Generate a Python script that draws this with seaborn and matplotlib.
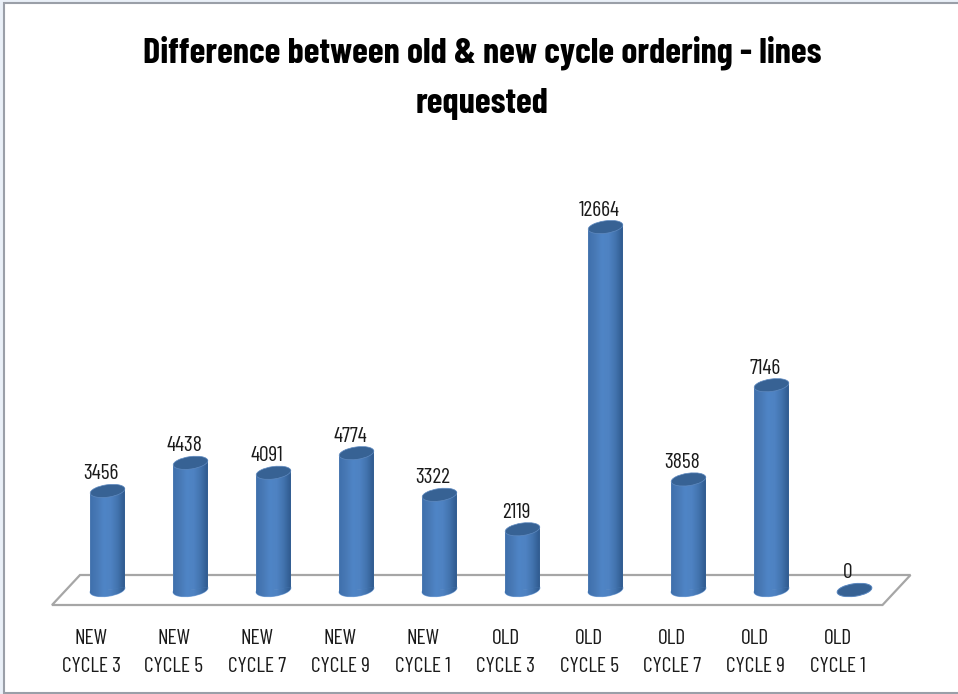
import numpy as np
import pandas as pd
import matplotlib
matplotlib.use('Agg')
import matplotlib.pyplot as plt
import matplotlib.patches as patches
from matplotlib.colors import LinearSegmentedColormap
from matplotlib.path import Path
from matplotlib.transforms import Affine2D, ScaledTranslation
import seaborn as sns

groups = ['NEW', 'NEW', 'NEW', 'NEW', 'NEW', 'OLD', 'OLD', 'OLD', 'OLD', 'OLD']
cycles = ['CYCLE 3', 'CYCLE 5', 'CYCLE 7', 'CYCLE 9', 'CYCLE 1',
          'CYCLE 3', 'CYCLE 5', 'CYCLE 7', 'CYCLE 9', 'CYCLE 1']
lines_requested = [3456, 4438, 4091, 4774, 3322, 2119, 12664, 3858, 7146, 0]

W, H = 958, 694
df = pd.DataFrame({'label': [g + '\n' + c for g, c in zip(groups, cycles)],
                   'lines': lines_requested})

sns.set_style('white')
plt.rcParams['font.family'] = ['Barlow Condensed', 'Archivo Narrow', 'Lato', 'DejaVu Sans']

fig = plt.figure(figsize=(W / 100, H / 100), dpi=100, facecolor='#eaf0f8')
# image pixels (y down) -> display
px = Affine2D().scale(1, -1).translate(0, H)

fig.patches.append(patches.Rectangle((3.5, 2.5), W, 690, transform=px, facecolor='white',
                                     edgecolor='#9a9fa8', linewidth=1.5, zorder=-1))

ax = fig.add_axes([66 / W, 1 - 590 / H, 830 / W, 400 / H])
ax.patch.set_alpha(0)
sns.barplot(data=df, x='label', y='lines', color='#4f81bd', width=0.42, saturation=1, ax=ax)
ylim = (0, 13957)
xlim = (-0.5, 9.5)
ax.set_xlim(xlim)
ax.set_ylim(ylim)
sns.despine(ax=ax, left=True, bottom=True)
ax.set_ylabel('')
ax.set_xlabel('')
ax.set_yticks([])

# the floor of the 3d chart
floor = patches.Polygon([(52, 605), (80, 575), (910.5, 575), (882.5, 605)], closed=True,
                        transform=px, facecolor='white', edgecolor='#a6a6a6',
                        linewidth=1.6, clip_on=False, zorder=0.5)
ax.add_patch(floor)

cyl = LinearSegmentedColormap.from_list('cyl', ['#3f70ac', '#4879b6', '#4f85c6', '#4e82c2',
                                                '#4273ae', '#2f5a8e'])
shade = np.linspace(0, 1, 64).reshape(1, -1)
tilt = 3
ry = 6.2

bars = list(ax.patches)[:len(lines_requested)]
for bar, value in zip(bars, lines_requested):
    x0, x1 = bar.get_x(), bar.get_x() + bar.get_width()
    (lx, base), (rx, top) = ax.transData.transform([(x0, 0), (x1, value)])
    base, top = H - base, H - top
    xc = (lx + rx) / 2
    w = rx - lx
    ang = -8

    bottom = patches.Ellipse((xc, base), w, ry * 2, angle=ang, transform=px,
                             facecolor='#4f81bd', edgecolor='#7fa8dc', linewidth=0.8,
                             clip_on=False, zorder=2)
    ax.add_patch(bottom)
    if value > 0:
        im = ax.imshow(shade, cmap=cyl, aspect='auto', zorder=2.1,
                       extent=(x0, x1, -500, value + 500), interpolation='bilinear')
        im.set_clip_box(fig.bbox)
        im.set_clip_path(bottom)
        body = Path([(lx, top + tilt), (rx, top - tilt), (rx, base - tilt), (lx, base + tilt),
                     (lx, top + tilt)])
        bar.set_clip_path(body, px)
        bar.set_zorder(2.2)
        im2 = ax.imshow(shade, cmap=cyl, aspect='auto', zorder=2.3,
                        extent=(x0, x1, -500, value + 500), interpolation='bilinear')
        im2.set_clip_box(fig.bbox)
        im2.set_clip_path(body, px)
    ax.add_patch(patches.Ellipse((xc, top), w, ry * 2, angle=ang, transform=px,
                                 facecolor='#376294', edgecolor='#5f8ac0', linewidth=0.5,
                                 clip_on=False, zorder=3))
    ax.annotate(str(value), (xc, top), xycoords=px, xytext=(-6.5 * 0.72, 17 * 0.72),
                textcoords='offset points', ha='center', va='center', fontsize=15.5,
                color='#1a1a1a', zorder=4)

ax.set_xlim(xlim)
ax.set_ylim(ylim)
ax.tick_params(axis='x', length=0, pad=28, labelsize=15.5, labelcolor='#1a1a1a')
shift = ScaledTranslation(-16.5 / 100, 0, fig.dpi_scale_trans)
for t in ax.get_xticklabels():
    t.set_linespacing(1.6)
    t.set_transform(t.get_transform() + shift)

fig.text(482 / W, 1 - 78 / H, 'Difference between old & new cycle ordering - lines\nrequested',
         ha='center', va='center', fontsize=26, fontweight='bold', color='black', linespacing=1.72)

fig.savefig('out.png', dpi=100, facecolor=fig.get_facecolor())
